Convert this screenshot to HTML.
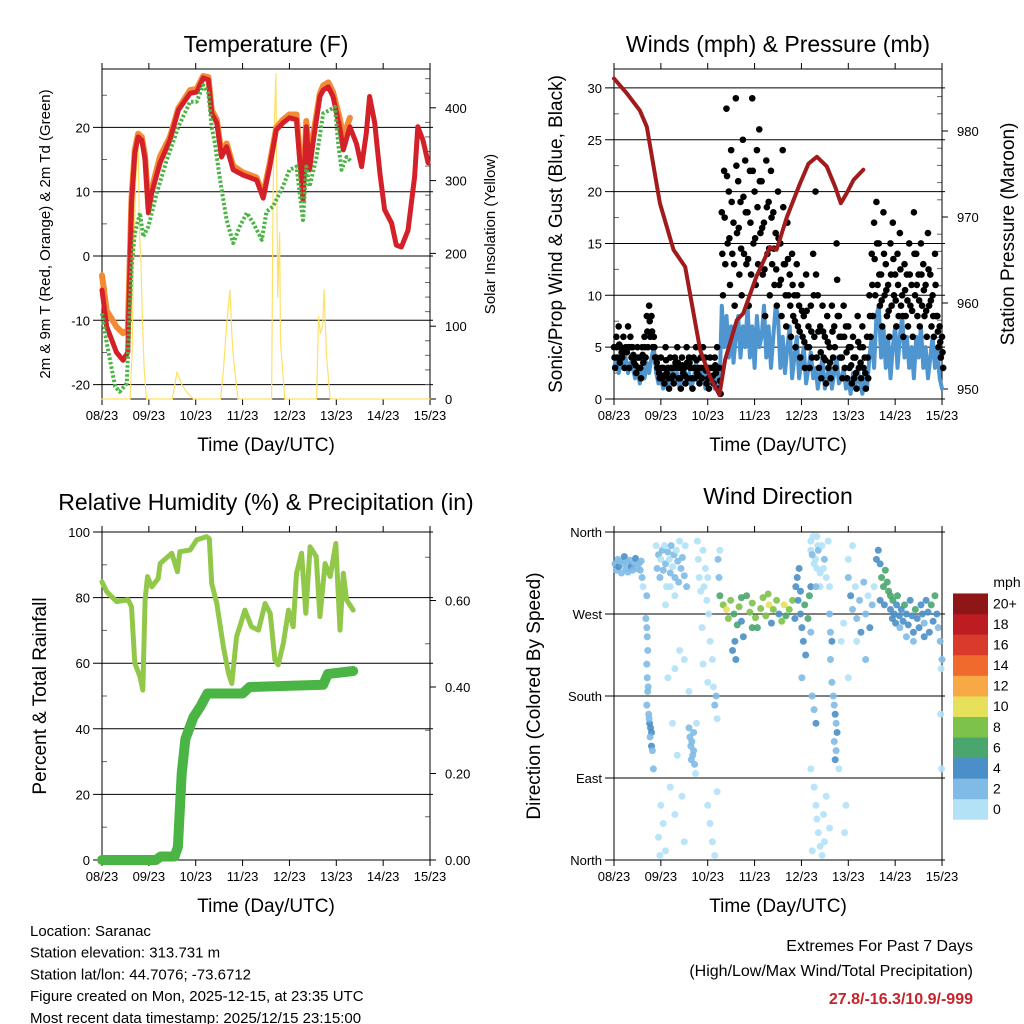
<!DOCTYPE html>
<html><head><meta charset="utf-8"><style>
body{margin:0;background:#fff;}
svg{font-family:"Liberation Sans",Arial,sans-serif;display:block}
</style></head><body>
<svg id="s" width="1024" height="1024" viewBox="0 0 1024 1024"></svg>
<script>
// ---------- DATA ----------
const dayLabels=["08/23","09/23","10/23","11/23","12/23","13/23","14/23","15/23"];
// Temperature panel
const tRedDay=[0,.1,.31,.45,.55,.63,.7,.77,.85,.92,.99,1.06,1.24,1.45,1.63,1.88,2.02,2.16,2.27,2.34,2.45,2.55,2.66,2.8,3.01,3.3,3.44,3.58,3.72,3.86,4.0,4.15,4.22,4.29,4.36,4.43,4.5,4.65,4.72,4.83,4.93,5.07,5.15,5.29,5.43,5.54,5.64,5.71,5.82,5.93,6.03,6.18,6.28,6.39,6.53,6.67,6.74,6.85,6.96];
const tRedVal=[-5.3,-11,-15,-16.2,-15,8.2,16,18.5,18,15,6.7,9.8,14.5,18,22.7,25.3,25.5,27.7,27.4,22.2,20.7,15.4,17,13.4,12.6,11.8,9,13.9,19.6,20.7,21.5,21.2,14.9,8.7,20.1,13.4,17.5,24.8,25.8,26.3,24.8,20.1,16.5,20.1,17.5,13.9,19.1,24.8,20.7,12.9,7.2,5.1,1.7,1.4,4.0,12.3,20.1,18,14.5];
const tOrgDay=[0,.1,.31,.45,.55,.63,.7,.77,.85,.92,.99,1.06,1.24,1.45,1.63,1.88,2.02,2.16,2.27,2.34,2.45,2.55,2.66,2.8,3.01,3.3,3.44,3.58,3.72,3.86,4.0,4.15,4.22,4.29,4.36,4.43,4.5,4.65,4.72,4.83,4.93,5.07,5.15,5.29];
const tOrgVal=[-3,-8.5,-11,-12,-11.5,9,16.5,19,18.5,15.5,7.5,10.5,15.5,18.5,23,25.8,26,28,27.8,22.7,21.2,16,17.5,14,13,12.2,9.5,14.5,20,21.2,22,22,16,10,21,15,18.5,25.3,26.5,27,25.5,21.5,18.5,21.5];
const tdDay=[0,.1,.28,.38,.53,.63,.7,.81,.88,.99,1.17,1.38,1.63,1.88,2.02,2.16,2.27,2.34,2.41,2.52,2.66,2.8,2.94,3.09,3.23,3.41,3.51,3.65,3.86,4.0,4.15,4.22,4.29,4.36,4.43,4.58,4.72,4.86,4.97,5.04,5.11,5.22,5.32];
const tdVal=[-8.9,-13.5,-20.3,-21.1,-19.8,-1.7,3.5,6.7,3.0,4.6,9.8,14.9,20.1,24,24,26.6,25.3,20.1,17.5,11.8,5.6,2,4.6,6.7,5.1,2.5,6.9,7.7,10.8,13.4,13.9,9.8,5.6,13.9,10.8,15.4,22.2,22.7,23.2,17.5,13.4,15.4,14.7];
const solDay=[0,.6,.64,.68,.72,.77,.8,.83,.86,.9,.95,1.5,1.6,1.7,1.8,1.95,2.53,2.59,2.66,2.73,2.77,2.8,2.9,3.62,3.65,3.68,3.71,3.75,3.79,3.81,3.83,3.9,4.58,4.62,4.66,4.71,4.74,4.79,4.87,7];
const solVal=[0,0,60,210,300,355,228,190,113,40,0,0,37,20,10,0,0,40,100,150,90,60,0,0,273,380,447,140,228,81,60,0,0,113,90,100,150,60,0,0];
const tempTicks=[-20,-10,0,10,20];
const solTicks=[0,100,200,300,400];
// Winds panel (sampled every 0.05 day)
const sonicWind=[3,4,2.5,3.5,3,4,2.5,3.5,3, 2,3,1.5,3,2,3.5,2.5,4,5,2.5,1.5, 2,1,2.5,1,2,3,1.5,2.5,1,2,3,1.5,2.5,1,2,3.5,1.5,2,3,1,2.5,1.5,2,1,2.5,0.5, 9,5,8,4,7,3.5,6,8,4,7,5,9,4,7,3,8,5,6,9,4,7,3,6,9, 8,3,6,2.5,5,7,2,4,6,2,3.5,5,1.5,3,4.5,2, 3,1,2.5,4,1,2,3.5,1,2.5,4,1.5,2,3,1, 2,0.5,2.5,1,3,1.5,0.5,2,1, 4,6,3,8,9,4,7,3,6,2,5,7,3,6,8,4,6,3,5,2,6,4,7,3,5,2,4,6,3,5,2,1];
const gustHigh=[5,6,7,5,6,5,7,6,5, 4,5,4,5,6,8,9,8,6,4,3, 4,3,5,3,4,3,4,5,3,4,3,5,4,3,4,5,3,4,5,4,3,4,3,4,5,3, 18,22,28,20,24,17,29,21,19,25,23,18,22,29,20,24,26,21,17,23,19,22,18,16, 20,15,24,13,17,12,14,10,13,9,11,8,12,7,9,14, 20,10,7,9,6,8,5,9,7,15,8,6,9,7, 7,5,6,4,8,5,7,4,6, 10,14,17,19,15,12,18,13,11,15,17,12,14,16,10,13,12,15,11,18,14,12,15,13,11,16,12,10,14,8,7,6];
const gustLow=[3,4,3.5,4,3,4.5,3,4,3.5, 2.5,3,2,3.5,4,5,6,5,4,3,2, 2,1.5,2.5,1,2,1.5,3,2,1,2.5,1.5,2,3,1,2,2.5,1.5,2,3,1.5,1,2,1.5,2.5,1,0.5, 10,13,15,11,14,9,16,12,10,14,13,9,12,15,11,13,16,12,8,14,10,13,11,9, 11,8,13,7,10,6,8,5,7,4,6,3,5,3,4,6, 4,3,2,4,1.5,3,2,4,3,8,4,2,3,2, 3,1.5,2,1,3,2,3,1,2, 6,8,10,11,9,7,10,8,6,9,10,7,8,9,6,8,7,9,6,10,8,7,9,8,6,9,7,6,8,5,4,3];
const presDay=[0,.27,.55,.7,.98,1.27,1.52,1.84,2.05,2.25,2.37,2.62,2.76,3.04,3.33,3.47,3.69,3.97,4.15,4.33,4.54,4.72,4.84,4.97,5.11,5.32];
const presVal=[986.1,984.4,982.4,980.5,971.6,966.2,964.2,954.5,951.4,949.3,953.4,958,958.8,963.1,966.5,966.2,970,973.9,976.2,977,975.9,973.5,971.6,972.8,974.3,975.5];
const windTicks=[0,5,10,15,20,25,30];
const presTicks=[950,960,970,980];
// RH & precip
const rhDay=[0,.1,.31,.56,.63,.7,.81,.87,.92,.97,1.06,1.2,1.24,1.49,1.61,1.66,1.88,2.02,2.23,2.29,2.34,2.45,2.59,2.7,2.77,2.87,3.05,3.19,3.34,3.48,3.59,3.69,3.76,3.87,3.98,4.08,4.15,4.26,4.35,4.44,4.57,4.65,4.76,4.87,4.99,5.08,5.15,5.22,5.36];
const rhVal=[84.8,81.8,78.8,79.3,77.2,60,55.9,51.8,79.3,86.4,83.3,85.8,90.4,93.5,87.9,94,94.5,97.6,98.6,98,84.3,78.2,65,56.9,53.8,68,76.2,71.1,70.1,78.2,75.2,61,59.5,66,76.2,71.1,87.4,93.5,75.2,95.5,92.5,74.2,90.4,86.4,96.5,70.1,87.4,79.3,76.2];
const rainDay=[0,1.15,1.25,1.55,1.62,1.7,1.78,1.95,2.1,2.25,2.35,3.0,3.15,4.72,4.82,5.36];
const rainVal=[0,0,0.008,0.008,0.03,0.2,0.28,0.33,0.355,0.385,0.385,0.385,0.4,0.405,0.43,0.437];
const rhTicks=[0,20,40,60,80,100];
const rainTicks=[0,0.2,0.4,0.6];
// Wind direction
const wdDay=[0.02,0.05,0.08,0.1,0.13,0.16,0.2,0.22,0.25,0.28,0.3,0.34,0.37,0.4,0.43,0.46,0.5,0.53,0.56,0.58,0.6,0.7,0.62,
0.68,0.7,0.71,0.72,0.7,0.71,0.72,0.7,0.74,0.76,0.78,0.8,0.77,0.8,0.82,0.75,0.73,0.84,
0.9,0.92,0.95,0.98,1.0,1.03,1.05,1.08,1.1,1.12,1.15,1.18,1.2,1.22,1.25,1.28,1.3,1.33,1.36,1.38,1.4,1.43,1.46,1.5,1.52,1.55,1.2,1.3,
1.0,1.05,0.95,1.1,0.98,1.2,1.3,1.45,1.5,1.35,1.25,1.15,1.3,1.5,1.6,1.4,1.1,
1.6,1.62,1.64,1.66,1.68,1.7,1.72,1.65,1.7,1.74,1.76,
1.78,1.8,1.82,1.85,1.9,1.92,1.95,1.98,2.0,2.02,1.88,2.05,2.1,2.12,2.15,2.18,2.2,2.22,2.24,2.26,2.0,2.05,2.1,2.15,2.2,1.9,2.0,
2.26,2.33,2.40,2.44,2.49,2.56,2.63,2.67,2.72,2.76,2.83,2.90,2.95,3.02,3.06,3.13,3.18,3.24,3.31,3.36,3.40,3.47,3.52,3.58,3.63,3.67,3.74,3.81,3.86,2.58,2.53,2.60,2.95,2.72,3.29,
3.88,3.93,3.98,4.01,4.04,4.09,3.91,3.98,4.07,4.14,4.17,4.2,3.95,4.01,
4.2,4.25,4.3,4.35,4.4,4.33,
4.2,4.23,4.27,4.31,4.33,4.36,4.4,4.44,4.47,4.49,4.53,4.57,4.2,4.23,4.27,4.31,4.2,4.27,4.31,4.33,4.36,4.4,4.44,4.47,4.53,4.6,4.49,4.23,
4.6,4.62,4.65,4.62,4.65,4.68,4.7,4.72,4.74,4.76,4.7,4.74,4.72,4.8,4.85,4.9,4.95,4.92,4.6,
5.0,5.05,5.09,5.15,5.18,5.24,5.27,5.33,5.37,5.42,5.46,5.51,5.55,5.0,5.09,5.18,5.37,5.0,
5.64,5.68,5.71,5.75,5.79,5.83,5.86,5.68,5.9,5.6,5.77,
5.9,5.94,5.95,5.98,6.01,6.03,6.05,6.09,6.1,6.13,6.17,6.2,6.24,6.28,6.32,6.36,6.39,6.43,6.47,6.51,6.55,6.58,6.62,6.66,6.7,6.73,6.77,6.81,6.85,6.89,6.92,6.96,7.0,6.98,6.97,6.99,6.39,6.62,6.24];
const wdDir=[325,318,330,322,328,315,326,333,320,327,316,329,322,318,326,331,320,325,318,328,310,290,300,
265,255,245,230,215,200,185,170,160,150,145,140,135,125,120,155,190,100,
345,320,335,310,330,340,318,345,325,300,338,330,315,345,322,335,310,340,328,305,350,320,332,312,345,300,300,290,
60,40,25,10,5,80,50,70,20,115,150,200,210,220,185,230,280,
145,135,125,130,115,120,105,110,140,95,150,
350,330,310,295,340,300,320,285,310,270,255,240,220,190,170,180,155,330,310,340,60,40,20,5,75,215,195,
290,280,275,265,285,270,258,278,262,245,290,272,282,266,255,276,288,268,280,260,275,285,270,262,280,268,275,285,265,240,230,220,255,288,292,
300,285,270,255,240,225,310,295,280,265,290,300,320,200,
340,355,330,345,300,320,
350,335,325,300,355,340,315,345,320,330,310,350,250,180,165,150,100,80,60,45,30,15,5,50,70,35,20,10,
270,250,240,220,195,180,170,160,150,140,130,120,110,100,240,260,60,30,300,
310,290,275,300,265,285,250,305,270,290,255,280,300,330,345,240,220,200,
340,325,310,300,318,305,295,285,290,330,280,
275,265,285,270,260,280,290,268,255,275,262,280,270,258,285,268,250,275,265,255,280,270,260,285,272,250,280,262,290,270,255,240,220,210,160,100,240,245,245];
const wdSpd=[3,3,2.5,4,3,3,2.5,4.5,3,2.5,3,2,4.5,3,2.5,4,3,2,2.5,3,2.5,3,1,
3,3,3,3,3,2.5,3,3,3,4.5,5,4.5,3,4.5,3,2.5,2.5,2.5,
1,3,2.5,3,1,3,2.5,1,3,1,3,1,2.5,3,1,3,2.5,1,3,2.5,1,3,2.5,3,1,2.5,0.5,0.5,
1,1,1,1,0.5,1,1,1,1,1,1,1,1,1,1,1,1,
2.5,2.5,3,2.5,2.5,3,2.5,2.5,2.5,1,1,
0.5,0.5,0.5,0.5,1,0.5,0.5,0.5,1,0.5,1,1,0.5,1,2.5,2.5,1,3,3,1,0.5,1,1,1,1,1,1,
7,9,10.5,8,9,7,7,9,5,5,6,8,9,9,7,9,8,9,10.5,5,8,9,5,9,10.5,7,8,9,5,5,5,5,6,7,8,
4.5,5,4.5,5,4.5,5,5,4.5,6,6,6,5,4.5,3,
1,1,1,1,1,1,
1,3,1,3,1,3,1,1,1,3,1,1,3,3,3,4.5,1,1,1,1,1,1,1,1,1,1,1,1,
3,3,4.5,3,3,3,3,4.5,3,4.5,3,3,4.5,1,1,1,1,1,1,
3,4.5,3,1,3,3,4.5,3,3,1,4.5,3,1,1,1,1,3,1,
4.5,5,7,7,7,6.5,6,5,7,4.5,4.5,
4.5,5,6.5,5,4.5,5,7,5,3,5,5,7,5,4.5,5,5,4.5,7,5,5,5,4.5,3,5,5,4.5,7,5,7,4.5,3,3,3,1,1,1,3,4.5,3];
const dirTicks=[0,90,180,270,360];
const dirLabels=["North","East","South","West","North"];
const spdColors=["#b3e2f7","#7fbbe6","#4a8fc7","#4aa56e","#7dc24a","#e6e05a","#f6a944","#ef6a2c","#d93a2b","#bc1c22","#8e1616"];
const spdLabels=["0","2","4","6","8","10","12","14","16","18","20+"];

// ---------- DRAW ----------
const NS="http://www.w3.org/2000/svg";
const svg=document.getElementById('s');
function el(tag,attrs,parent,name,inter){
  const e=document.createElementNS(NS,tag);
  for(const k in attrs)e.setAttribute(k,attrs[k]);
  
  
  (parent||svg).appendChild(e);return e;
}
function txt(x,y,s,size,anchor,parent,name,extra){
  const t=el('text',Object.assign({x:x,y:y,'font-size':size,'text-anchor':anchor||'middle',fill:'#000'},extra||{}),parent,name,false);
  t.textContent=s;return t;
}
function vtxt(x,y,s,size,name){
  return txt(0,0,s,size,'middle',svg,name,{transform:`translate(${x},${y}) rotate(-90)`});
}
function path(pts,attrs,name,parent){
  const d=pts.map((p,i)=>(i?'L':'M')+p[0].toFixed(1)+','+p[1].toFixed(1)).join('');
  return el('path',Object.assign({d:d,fill:'none','stroke-linejoin':'round','stroke-linecap':'round'},attrs),parent,name,false);
}
const PW=328;
function frame(x0,y0,h,leftTicks,leftY,leftFmt,rightTicks,rightY,rightFmt,prefix,minorL,minorR){
  const g=el('g',{},svg,prefix+'-axes',false);
  const xs=d=>x0+d*46.86;
  leftTicks.forEach(v=>{const y=leftY(v);el('line',{x1:x0-9,x2:x0+PW+3,y1:y,y2:y,stroke:'#000','stroke-width':1},g,prefix+'-gridline',false);});
  (minorL||[]).forEach(v=>{const y=leftY(v);el('line',{x1:x0,x2:x0+5,y1:y,y2:y,stroke:'#666','stroke-width':1},g,prefix+'-minor-tick',false);});
  (minorR||[]).forEach(v=>{const y=rightY(v);el('line',{x1:x0+PW-5,x2:x0+PW,y1:y,y2:y,stroke:'#666','stroke-width':1},g,prefix+'-minor-tick-right',false);});
  el('rect',{x:x0,y:y0,width:PW,height:h,fill:'none',stroke:'#000','stroke-width':1},g,prefix+'-plot-frame',false);
  for(let i=0;i<8;i++){const x=xs(i);
    el('line',{x1:x,x2:x,y1:y0-6,y2:y0,stroke:'#000'},g,prefix+'-top-tick',false);
    el('line',{x1:x,x2:x,y1:y0+h,y2:y0+h+6,stroke:'#000'},g,prefix+'-x-tick',false);
    txt(x,y0+h+21,dayLabels[i],13,'middle',g,prefix+'-x-tick-label');
  }
  leftTicks.forEach(v=>txt(x0-12,leftY(v)+5,leftFmt(v),13,'end',g,prefix+'-y-tick-label'));
  if(rightTicks)rightTicks.forEach(v=>{const y=rightY(v);
    el('line',{x1:x0+PW,x2:x0+PW+6,y1:y,y2:y,stroke:'#000'},g,prefix+'-right-tick',false);
    txt(x0+PW+15,y+5,rightFmt(v),13,'start',g,prefix+'-right-tick-label');});
  txt(x0+164,y0+h+52,'Time (Day/UTC)',19,'middle',g,prefix+'-x-axis-title');
}
// Panel 1
const X1=d=>102+d*46.86, T1=v=>256-v*6.43, S1=v=>399-v*0.728;
txt(266,52,'Temperature (F)',23,'middle',svg,'temperature-title');
frame(102,69,330,tempTicks,T1,v=>String(v),solTicks,S1,v=>String(v),'temp',[-15,-5,5,15,25],[20,40,60,80,120,140,160,180,220,240,260,280,320,340,360,380,420,440]);
vtxt(50,234,'2m & 9m T (Red, Orange) & 2m Td (Green)',15,'temp-y-axis-title');
vtxt(495,234,'Solar Insolation (Yellow)',15,'solar-y-axis-title');
path(solDay.map((d,i)=>[X1(d),S1(solVal[i])]),{stroke:'#ffe066','stroke-width':1.2},'solar-insolation-line');
path(tOrgDay.map((d,i)=>[X1(d),T1(tOrgVal[i])]),{stroke:'#f58a35','stroke-width':6},'temp-9m-line');
path(tRedDay.map((d,i)=>[X1(d),T1(tRedVal[i])]),{stroke:'#d42028','stroke-width':5},'temp-2m-line');
path(tdDay.map((d,i)=>[X1(d),T1(tdVal[i])]),{stroke:'#4ab544','stroke-width':4,'stroke-dasharray':'2.5,2','stroke-linecap':'butt'},'dewpoint-line');

// Panel 2
const X2=d=>614+d*46.86, W2=v=>399-v*10.37, P2=v=>389-(v-950)*8.6;
txt(778,52,'Winds (mph) & Pressure (mb)',23,'middle',svg,'winds-title');
frame(614,69,330,windTicks,W2,v=>String(v),presTicks,P2,v=>String(v),'wind',[2.5,7.5,12.5,17.5,22.5,27.5],[952,954,956,958,962,964,966,968,972,974,976,978,982,984]);
vtxt(562,234,'Sonic/Prop Wind & Gust (Blue, Black)',19,'wind-y-axis-title');
vtxt(1014,234,'Station Pressure (Maroon)',19,'pressure-y-axis-title');
path(sonicWind.map((v,i)=>[X2(i*0.05),W2(v)]),{stroke:'#4f95cf','stroke-width':4},'sonic-wind-line');
const gg=el('g',{},svg,'gust-points',false);
gustHigh.forEach((v,i)=>{
  el('circle',{cx:X2(i*0.05),cy:W2(v),r:3.3,fill:'#000'},gg,'gust-point',false);
  el('circle',{cx:X2(i*0.05+0.025),cy:W2(gustLow[i]),r:3.3,fill:'#000'},gg,'gust-point',false);
  el('circle',{cx:X2(i*0.05+0.012),cy:W2((v+gustLow[i])/2),r:3.3,fill:'#000'},gg,'gust-point',false);
});
path(presDay.map((d,i)=>[X2(d),P2(presVal[i])]),{stroke:'#a01c1c','stroke-width':4},'pressure-line');

// Panel 3
const H3=v=>860-v*3.28, R3=v=>860-v*432.5;
txt(266,510,'Relative Humidity (%) & Precipitation (in)',23,'middle',svg,'rh-precip-title');
frame(102,532,328,rhTicks,H3,v=>String(v),rainTicks,R3,v=>v.toFixed(2),'rh',[10,30,50,70,90],[0.1,0.3,0.5,0.7]);
vtxt(46,696,'Percent & Total Rainfall',19,'rh-y-axis-title');
path(rhDay.map((d,i)=>[X1(d),H3(rhVal[i])]),{stroke:'#92c84a','stroke-width':5},'relative-humidity-line');
path(rainDay.map((d,i)=>[X1(d),R3(rainVal[i])]),{stroke:'#4ab544','stroke-width':10},'precipitation-line');

// Panel 4
const D4=v=>860-v*0.9111;
txt(778,504,'Wind Direction',23,'middle',svg,'wind-direction-title');
frame(614,532,328,dirTicks,D4,v=>dirLabels[dirTicks.indexOf(v)],null,null,null,'dir',[],[]);
vtxt(540,696,'Direction (Colored By Speed)',19,'dir-y-axis-title');
const dg=el('g',{},svg,'wind-direction-points',false);
wdDay.forEach((d,i)=>{
  const k=Math.min(10,Math.floor(wdSpd[i]/2));
  el('circle',{cx:X2(d),cy:D4(wdDir[i]),r:3.5,fill:spdColors[k],'fill-opacity':0.9},dg,'direction-point',false);
});
const cb=el('g',{},svg,'speed-colorbar',false);
txt(1007,587,'mph',14,'middle',cb,'colorbar-unit');
spdColors.forEach((c,i)=>{
  const y=819.5-(i+1)*20.55;
  el('rect',{x:953,y:y,width:35,height:20.8,fill:c},cb,'colorbar-box',false);
  txt(993,y+15,spdLabels[i],14,'start',cb,'colorbar-label');
});

// Footer text
const info=["Location: Saranac","Station elevation: 313.731 m","Station lat/lon: 44.7076; -73.6712","Figure created on Mon, 2025-12-15, at 23:35 UTC","Most recent data timestamp: 2025/12/15 23:15:00"];
info.forEach((s,i)=>txt(30,936+i*21.7,s,15,'start',svg,'station-info-line'));
txt(973,951,'Extremes For Past 7 Days',16,'end',svg,'extremes-heading');
txt(973,976,'(High/Low/Max Wind/Total Precipitation)',16,'end',svg,'extremes-subheading');
txt(973,1004,'27.8/-16.3/10.9/-999',16,'end',svg,'extremes-values',{fill:'#c8232a','font-weight':'bold'});
</script>
</body></html>
